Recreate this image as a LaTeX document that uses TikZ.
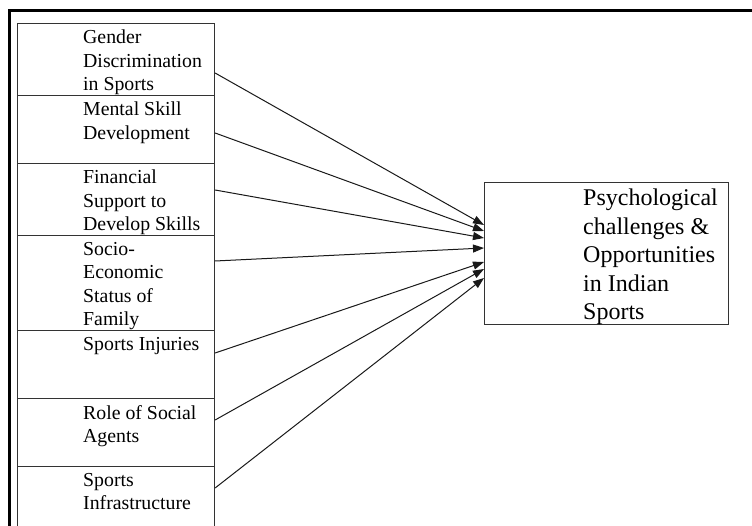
\documentclass[tikz,border=0pt]{standalone}
\usepackage{fontspec}
\setmainfont{Liberation Serif}
\usetikzlibrary{arrows.meta,positioning}

\begin{document}
\begin{tikzpicture}[x=1pt,y=-1pt]
\tikzstyle{every node}=[inner sep=0pt]
\tikzstyle{factor}=[draw=black!80, line width=1.1pt, rectangle, minimum width=197pt, anchor=north west]
\tikzstyle{factortext}=[align=left, anchor=north west, font=\fontsize{19.8}{23.5}\selectfont]
\tikzstyle{link}=[-{Triangle[length=11pt,width=8pt]}, line width=1pt, black!90]
\useasboundingbox (0,0) rectangle (752,526);
\clip (0,0) rectangle (752,526);
\draw[line width=3pt] (9.5,11) rectangle (790,570);

\node[factor, minimum height=72pt] (gender) at (17,23) {};
\node[factor, minimum height=68pt] (mental) at (17,95) {};
\node[factor, minimum height=72pt] (finance) at (17,163) {};
\node[factor, minimum height=95pt] (socio) at (17,235) {};
\node[factor, minimum height=68pt] (injury) at (17,330) {};
\node[factor, minimum height=68pt] (agents) at (17,398) {};
\node[factor, minimum height=70pt] (infra) at (17,466) {};

\node[factortext] (gendertext) at ([xshift=66pt,yshift=-7pt]gender.north west) {Gender\\Discrimination\\in Sports};
\node[factortext] (mentaltext) at ([xshift=66pt,yshift=-7pt]mental.north west) {Mental Skill\\Development};
\node[factortext] (financetext) at ([xshift=66pt,yshift=-7pt]finance.north west) {Financial\\Support to\\Develop Skills};
\node[factortext] (sociotext) at ([xshift=66pt,yshift=-7pt]socio.north west) {Socio-\\Economic\\Status of\\Family};
\node[factortext] (injurytext) at ([xshift=66pt,yshift=-7pt]injury.north west) {Sports Injuries};
\node[factortext] (agentstext) at ([xshift=66pt,yshift=-7pt]agents.north west) {Role of Social\\Agents};
\node[factortext] (infratext) at ([xshift=66pt,yshift=-7pt]infra.north west) {Sports\\Infrastructure};

\node[draw=black!80, line width=1.1pt, rectangle, minimum width=244pt, minimum height=142pt, anchor=north west] (psy) at (484,182) {};
\node[align=left, anchor=north west, font=\fontsize{24}{28.5}\selectfont] (psytext) at ([xshift=99pt,yshift=-7pt]psy.north west) {Psychological\\challenges \&\\Opportunities\\in Indian\\Sports};

\draw[link] ([yshift=-50pt]gender.north east) -- ([yshift=-43pt]psy.north west);
\draw[link] ([yshift=-38pt]mental.north east) -- ([yshift=-49pt]psy.north west);
\draw[link] ([yshift=-27pt]finance.north east) -- ([yshift=-56pt]psy.north west);
\draw[link] ([yshift=-26pt]socio.north east) -- ([yshift=-66pt]psy.north west);
\draw[link] ([yshift=-23pt]injury.north east) -- ([yshift=-80pt]psy.north west);
\draw[link] ([yshift=-22pt]agents.north east) -- ([yshift=-87pt]psy.north west);
\draw[link] ([yshift=-22pt]infra.north east) -- ([yshift=-96pt]psy.north west);
\end{tikzpicture}
\end{document}
